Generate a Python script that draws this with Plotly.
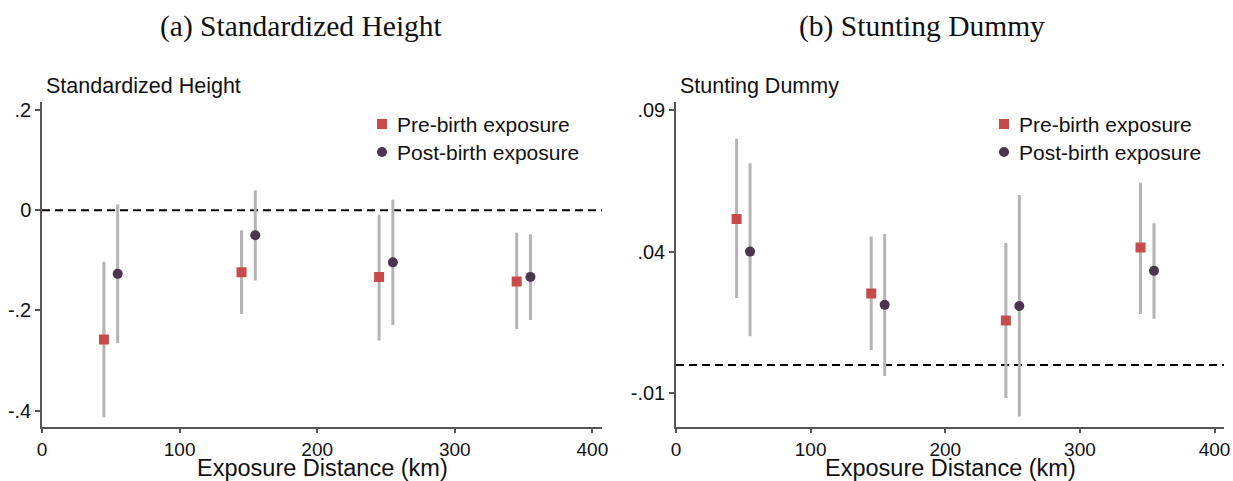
import plotly.graph_objects as go

# ---------------- data ----------------
x_pre = [45, 145, 245, 345]
x_post = [55, 155, 255, 355]

# (a) Standardized Height
h_pre = [-0.258, -0.124, -0.133, -0.142]
h_pre_lo = [-0.413, -0.207, -0.260, -0.237]
h_pre_hi = [-0.103, -0.040, -0.009, -0.045]
h_post = [-0.127, -0.050, -0.104, -0.133]
h_post_lo = [-0.265, -0.140, -0.229, -0.219]
h_post_hi = [0.012, 0.040, 0.021, -0.048]

# (b) Stunting Dummy
s_pre = [0.0515, 0.0252, 0.0157, 0.0414]
s_pre_lo = [0.0236, 0.0053, -0.0117, 0.0180]
s_pre_hi = [0.0798, 0.0453, 0.0430, 0.0643]
s_post = [0.0400, 0.0212, 0.0208, 0.0332]
s_post_lo = [0.0101, -0.0039, -0.0182, 0.0163]
s_post_hi = [0.0712, 0.0462, 0.0600, 0.0500]

x_ticks = [0, 100, 200, 300, 400]
h_ticks = [0.2, 0, -0.2, -0.4]
h_ticktext = [".2", "0", "-.2", "-.4"]
s_ticks = [0.09, 0.04, -0.01]
s_ticktext = [".09", ".04", "-.01"]
legend_labels = ["Pre-birth exposure", "Post-birth exposure"]

PRE_COLOR = "#c84b4b"
POST_COLOR = "#4b3650"
CI_COLOR = "#b4b4b4"
AXIS_COLOR = "#555555"
SANS = "Liberation Sans, Arial, sans-serif"
SERIF = "Liberation Serif, Times New Roman, serif"

W, H = 1233, 481


def ci_lines(xs, lo, hi):
    xx, yy = [], []
    for x, a, b in zip(xs, lo, hi):
        xx += [x, x, None]
        yy += [a, b, None]
    return xx, yy


fig = go.Figure()


def add_panel(xa, ya, pre, pre_lo, pre_hi, post, post_lo, post_hi):
    for xs, lo, hi in [(x_pre, pre_lo, pre_hi), (x_post, post_lo, post_hi)]:
        xx, yy = ci_lines(xs, lo, hi)
        fig.add_trace(go.Scatter(x=xx, y=yy, mode="lines", xaxis=xa, yaxis=ya,
                                 line=dict(color=CI_COLOR, width=3),
                                 showlegend=False, hoverinfo="skip"))
    fig.add_trace(go.Scatter(x=x_pre, y=pre, mode="markers", xaxis=xa, yaxis=ya,
                             name=legend_labels[0], showlegend=False,
                             marker=dict(symbol="square", size=10, color=PRE_COLOR)))
    fig.add_trace(go.Scatter(x=x_post, y=post, mode="markers", xaxis=xa, yaxis=ya,
                             name=legend_labels[1], showlegend=False,
                             marker=dict(symbol="circle", size=10, color=POST_COLOR)))


add_panel("x", "y", h_pre, h_pre_lo, h_pre_hi, h_post, h_post_lo, h_post_hi)
add_panel("x2", "y2", s_pre, s_pre_lo, s_pre_hi, s_post, s_post_lo, s_post_hi)

# domains (pixel geometry)
y_dom = [1 - 426.7 / H, 1 - 101.7 / H]
xdom1 = [42 / W, 602 / W]
xdom2 = [676 / W, 1224 / W]

axis_common = dict(showline=True, linecolor=AXIS_COLOR, linewidth=1.5,
                   ticks="outside", ticklen=5, tickcolor=AXIS_COLOR, tickwidth=1.5,
                   showgrid=False, zeroline=False, automargin=False,
                   tickfont=dict(family=SANS, size=20, color="#111111"))
xaxis_common = dict(axis_common, tickfont=dict(family=SANS, size=19, color="#111111"))

fig.update_layout(
    width=W, height=H,
    margin=dict(l=0, r=0, t=0, b=0),
    paper_bgcolor="white", plot_bgcolor="white",
    showlegend=False,
    xaxis=dict(domain=xdom1, range=[0, 407], tickvals=x_ticks, anchor="y", **xaxis_common),
    yaxis=dict(domain=y_dom, range=[-0.432, 0.2166], tickvals=h_ticks, ticktext=h_ticktext,
               anchor="x", **axis_common),
    xaxis2=dict(domain=xdom2, range=[0, 407], tickvals=x_ticks, anchor="y2", **xaxis_common),
    yaxis2=dict(domain=y_dom, range=[-0.0218, 0.0929], tickvals=s_ticks, ticktext=s_ticktext,
                anchor="x2", **axis_common),
)

# zero reference lines
for xr, yr in [("x domain", "y"), ("x2 domain", "y2")]:
    fig.add_shape(type="line", xref=xr, yref=yr, x0=0, x1=1, y0=0, y1=0,
                  line=dict(color="black", width=2, dash="8px,5px"), layer="below")

# manual legends (marker + text) in paper pixels
for mx in [382, 1004]:
    for i, (label, cy) in enumerate(zip(legend_labels, [124, 152])):
        if i == 0:
            fig.add_shape(type="rect", xref="paper", yref="paper",
                          x0=(mx - 5) / W, x1=(mx + 5) / W,
                          y0=1 - (cy + 5) / H, y1=1 - (cy - 5) / H,
                          fillcolor=PRE_COLOR, line=dict(width=0))
        else:
            fig.add_shape(type="circle", xref="paper", yref="paper",
                          x0=(mx - 5) / W, x1=(mx + 5) / W,
                          y0=1 - (cy + 5) / H, y1=1 - (cy - 5) / H,
                          fillcolor=POST_COLOR, line=dict(width=0))
        fig.add_annotation(xref="paper", yref="paper", showarrow=False, text=label,
                           x=(mx + 13) / W, y=1 - cy / H, xanchor="left", yanchor="middle",
                           font=dict(family=SANS, size=21, color="#111111"))

# titles
ann = [
    dict(text="(a) Standardized Height", x=301 / W, y=1 - 26 / H,
         font=dict(family=SERIF, size=29.5, color="#111111")),
    dict(text="(b) Stunting Dummy", x=922 / W, y=1 - 26 / H,
         font=dict(family=SERIF, size=29.5, color="#111111")),
    dict(text="Exposure Distance (km)", x=322 / W, y=1 - 467.5 / H,
         font=dict(family=SANS, size=23.5, color="#111111")),
    dict(text="Exposure Distance (km)", x=950 / W, y=1 - 467.5 / H,
         font=dict(family=SANS, size=23.5, color="#111111")),
]
for a in ann:
    fig.add_annotation(xref="paper", yref="paper", showarrow=False,
                       xanchor="center", yanchor="middle", borderpad=0, **a)

for text, x0 in [("Standardized Height", 44), ("Stunting Dummy", 678)]:
    fig.add_annotation(xref="paper", yref="paper", showarrow=False, text=text,
                       x=x0 / W, y=1 - 86 / H, xanchor="left", yanchor="middle",
                       font=dict(family=SANS, size=21.5, color="#111111"))

fig.write_html("out.html")
